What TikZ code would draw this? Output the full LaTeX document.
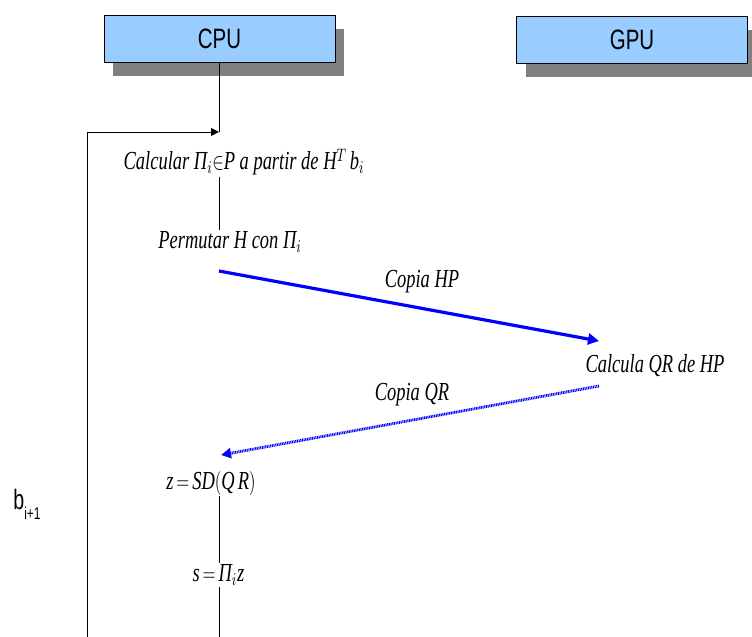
\documentclass[tikz,border=0pt]{standalone}
\usepackage{fontspec}
\setmainfont{Liberation Serif}
\setsansfont{Liberation Sans}
\usepackage{graphicx}
\usetikzlibrary{arrows.meta,shadows}
\definecolor{boxblue}{HTML}{99CCFF}
\tikzstyle{unitbox} = [draw=black, fill=boxblue, line width=0.5pt, rectangle,
    minimum width=115.5pt, minimum height=23.5pt, inner sep=0pt,
    font=\sffamily\fontsize{14}{16}\selectfont,
    drop shadow={shadow xshift=4.5pt, shadow yshift=-7pt, fill=black!50, opacity=1}]
\tikzstyle{steptext} = [inner sep=0.5pt, font=\itshape\fontsize{13}{15}\selectfont]
\tikzstyle{flow} = [draw=black, line width=0.5pt]
\tikzstyle{copyarrow} = [draw=blue, line width=1.6pt, -{Triangle[length=5.5pt,width=5.5pt]}]
\tikzstyle{backarrow} = [draw=blue, line width=1.4pt, dash pattern=on 0.5pt off 0.35pt,
    -{Triangle[length=5pt,width=5pt]}]
\newcommand{\nar}[2][0.71]{\scalebox{#1}[1]{#2}}

\begin{document}
\begin{tikzpicture}[x=0.5pt, y=-0.5pt]
    \useasboundingbox (0,0) rectangle (752,637);
    \node[unitbox] (cpu) at (219.5,38.5) {\nar[0.73]{CPU}};
    \node[unitbox] (gpu) at (632,39.5) {\nar[0.73]{GPU}};

    \node[steptext] (calc) at (244,162) {\nar{Calcular Π$_i$$\in$P a partir de H$^T$\,b$_i$}};
    \node[steptext] (perm) at (230,242) {\nar{Permutar H con Π$_i$}};
    \node[steptext] (hplbl) at (422,282) {\nar{Copia HP}};
    \node[steptext] (qr) at (655,366) {\nar{Calcula QR de HP}};
    \node[steptext] (qrlbl) at (412,395) {\nar{Copia QR}};
    \node[steptext] (sd) at (211,483) {\nar{z$\,=\,$SD$($Q\,R$)$}};
    \node[steptext] (sv) at (218.5,575) {\nar{s$\,=\,$Π$_i$z}};
    \node[inner sep=0pt, font=\sffamily\fontsize{14}{16}\selectfont] (bnext) at (27,504)
        {\nar[0.7]{b\raisebox{-5pt}{\fontsize{8.5}{9}\selectfont i+1}}};

    \coordinate (loopin) at (219,132);
    \coordinate (loopend) at (87,637);
    \coordinate (hpout) at (219,271);
    \coordinate (hpin) at (599,341);
    \coordinate (qrout) at (599,386);
    \coordinate (qrin) at (221,455);

    \draw[flow] (cpu.south -| loopin) -- (loopin);
    \draw[flow, -{Triangle[length=4pt,width=4pt]}] (loopend) |- (loopin);
    \draw[flow] (calc.south -| loopin) -- (perm.north -| loopin);
    \draw[copyarrow] (hpout) -- (hpin);
    \draw[backarrow] (qrout) -- (qrin);
    \draw[flow] (sd.south -| loopin) -- (sv.north -| loopin);
    \draw[flow] (sv.south -| loopin) -- (loopin |- loopend);
\end{tikzpicture}
\end{document}
